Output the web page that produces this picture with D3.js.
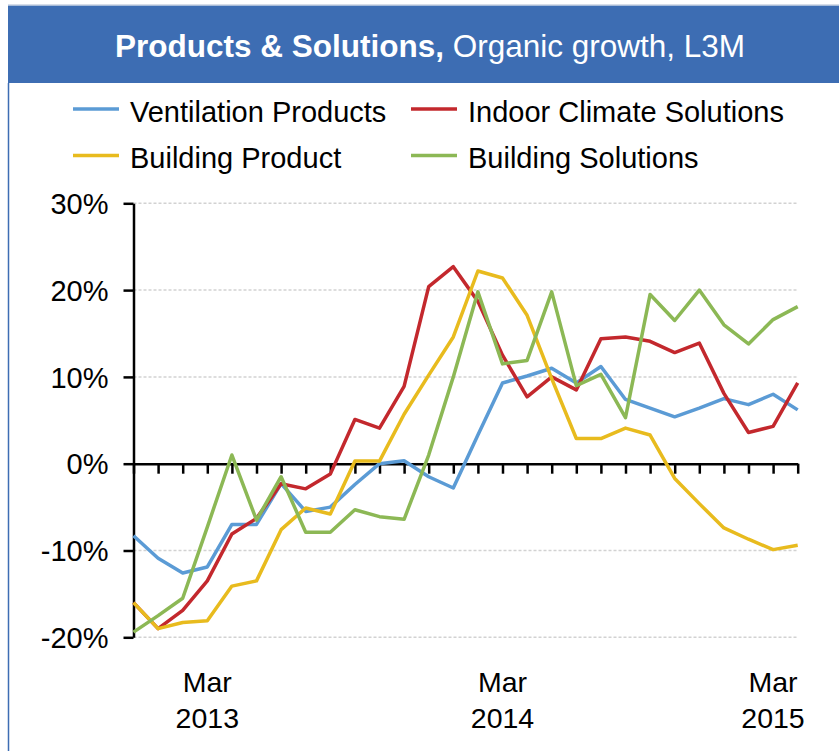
<!DOCTYPE html>
<html lang="en">
<head>
  <meta charset="UTF-8">
  <title>Products & Solutions, Organic growth, L3M</title>
  <script src="https://d3js.org/d3.v7.min.js"></script>
  <style>
    body { margin: 0; background: #fff; }
    text { font-family: Arial, "Liberation Sans", sans-serif; fill: #000; }
    .axis path, .axis line { stroke: #000; stroke-width: 2.5; }
    .grid line { stroke: #d2d2d2; stroke-width: 1.5; stroke-dasharray: 3,2; }
  </style>
</head>
<body>
<div id="chart"></div>
<script>
// monthly categories, Dec 2012 - Mar 2015
const months = ["Dec 2012", "Jan 2013", "Feb 2013", "Mar 2013", "Apr 2013", "May 2013", "Jun 2013",
  "Jul 2013", "Aug 2013", "Sep 2013", "Oct 2013", "Nov 2013", "Dec 2013", "Jan 2014", "Feb 2014",
  "Mar 2014", "Apr 2014", "May 2014", "Jun 2014", "Jul 2014", "Aug 2014", "Sep 2014", "Oct 2014",
  "Nov 2014", "Dec 2014", "Jan 2015", "Feb 2015", "Mar 2015"];

// organic growth in %
const ventilationProducts = [-8.3, -10.9, -12.6, -11.9, -7.0, -7.0, -2.3, -5.5, -5.0, -2.4, 0.0, 0.35,
  -1.5, -2.8, 3.3, 9.3, 10.1, 11.0, 9.3, 11.2, 7.4, 6.4, 5.4, 6.4, 7.5, 6.8, 8.0, 6.2];
const indoorClimateSolutions = [-16.0, -19.0, -16.9, -13.5, -8.1, -6.3, -2.3, -2.9, -1.2, 5.1, 4.1, 8.9,
  20.4, 22.7, 18.7, 12.5, 7.7, 10.0, 8.5, 14.4, 14.6, 14.1, 12.8, 13.9, 8.1, 3.6, 4.3, 9.3];
const buildingProduct = [-16.0, -19.0, -18.3, -18.1, -14.1, -13.5, -7.6, -5.1, -5.8, 0.3, 0.3, 5.7,
  10.2, 14.6, 22.2, 21.4, 17.1, 9.8, 2.9, 2.9, 4.1, 3.3, -1.7, -4.6, -7.4, -8.7, -9.9, -9.4];
const buildingSolutions = [-19.4, -17.5, -15.5, -7.3, 1.0, -6.5, -1.5, -7.9, -7.9, -5.3, -6.1, -6.4,
  1.0, 10.0, 19.8, 11.5, 11.9, 19.8, 9.0, 10.3, 5.3, 19.5, 16.5, 20.0, 16.0, 13.8, 16.6, 18.1];

const seriesNames = ["Ventilation Products", "Indoor Climate Solutions", "Building Product", "Building Solutions"];
const seriesColors = ["#5b9bd5", "#c3282d", "#e8bb1e", "#8cb855"];
const yTicks = [-20, -10, 0, 10, 20, 30];
const xLabelMonths = ["Mar 2013", "Mar 2014", "Mar 2015"];

const series = [ventilationProducts, indoorClimateSolutions, buildingProduct, buildingSolutions];

const W = 839, H = 751;
const svg = d3.select("#chart").append("svg")
  .attr("width", W)
  .attr("height", H);

// panel frame + header
svg.append("line").attr("x1", 8).attr("x2", W).attr("y1", 5).attr("y2", 5)
  .attr("stroke", "#c8d2e2").attr("stroke-width", 1.5);
svg.append("rect").attr("x", 8).attr("y", 5.7).attr("width", W - 8).attr("height", 77.3).attr("fill", "#3d6db3");
svg.append("line").attr("x1", 8.5).attr("x2", 8.5).attr("y1", 83).attr("y2", H)
  .attr("stroke", "#3d6db3").attr("stroke-width", 1.5);

const title = svg.append("text")
  .attr("x", 430).attr("y", 57)
  .attr("text-anchor", "middle")
  .style("font-size", "31.5px");
title.append("tspan").text("Products & Solutions,").style("font-weight", "bold").style("fill", "#fff");
title.append("tspan").text(" Organic growth, L3M").style("fill", "#fff");

// legend, 2 x 2
const legendPos = [[73, 109], [411, 109], [73, 155.5], [411, 155.5]];
seriesNames.forEach((name, i) => {
  const [lx, ly] = legendPos[i];
  svg.append("line")
    .attr("x1", lx).attr("x2", lx + 46).attr("y1", ly).attr("y2", ly)
    .attr("stroke", seriesColors[i]).attr("stroke-width", 3.5);
  svg.append("text")
    .attr("x", lx + 57).attr("y", ly + 12.5)
    .style("font-size", "29px")
    .text(name);
});

// scales
const x = d3.scalePoint().domain(months).range([133.5, 797.7]);
const y = d3.scaleLinear().domain([-20, 30]).range([637.3, 203.3]);

// gridlines
svg.append("g").attr("class", "grid")
  .selectAll("line")
  .data(yTicks.filter(d => d !== 0))
  .join("line")
  .attr("x1", x.range()[0]).attr("x2", x.range()[1])
  .attr("y1", d => y(d)).attr("y2", d => y(d));

// y axis
const yAxis = svg.append("g").attr("class", "axis")
  .attr("transform", `translate(${x.range()[0]},0)`)
  .call(d3.axisLeft(y).tickValues(yTicks).tickSize(10).tickSizeOuter(0).tickPadding(15)
    .tickFormat(d => d + "%"));
yAxis.selectAll("text").style("font-size", "29px").attr("dy", "0.35em");

// x axis at zero, tick at every month, no labels
svg.append("g").attr("class", "axis")
  .attr("transform", `translate(0,${y(0)})`)
  .call(d3.axisBottom(x).tickSize(10).tickSizeOuter(0).tickFormat(""));

// x labels: Mar / year, last one kept inside the plot
const xl = svg.append("g");
xLabelMonths.forEach(m => {
  const [mon, yr] = m.split(" ");
  const t = xl.append("text").attr("text-anchor", "middle").style("font-size", "28.5px");
  t.append("tspan").attr("x", x(m)).attr("y", 691.7).text(mon);
  t.append("tspan").attr("x", x(m)).attr("y", 727.7).text(yr);
  const w = t.node().getBBox().width;
  const cx = Math.min(x(m), x.range()[1] + 7 - w / 2);
  t.selectAll("tspan").attr("x", cx);
});

// lines
const line = d3.line()
  .x((d, i) => x(months[i]))
  .y(d => y(d));

svg.append("g")
  .selectAll("path")
  .data(series)
  .join("path")
  .attr("d", d => line(d))
  .attr("fill", "none")
  .attr("stroke", (d, i) => seriesColors[i])
  .attr("stroke-width", 3.5)
  .attr("stroke-linejoin", "round");
</script>
</body>
</html>
